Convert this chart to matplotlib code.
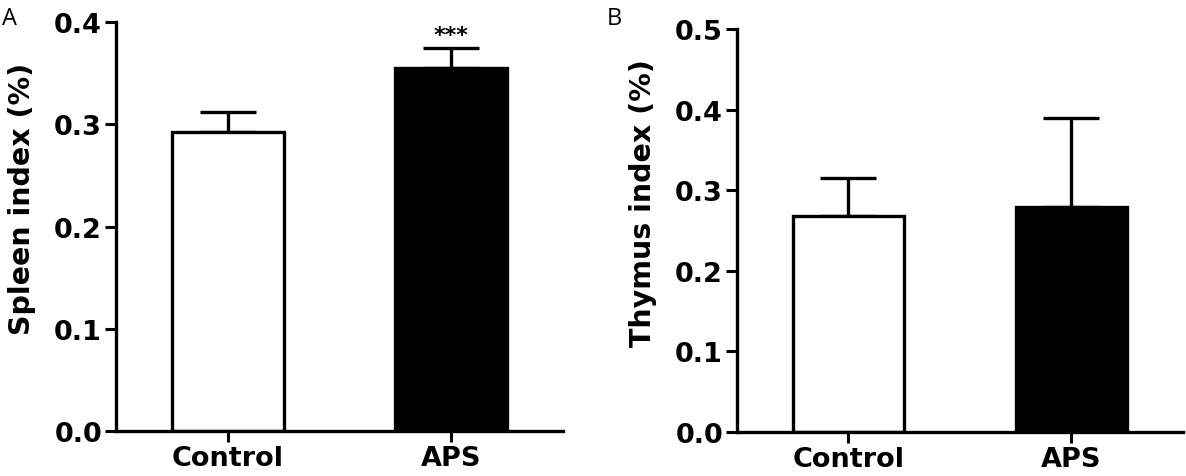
import numpy as np
import matplotlib.pyplot as plt

plt.rcParams['font.family'] = ['DejaVu Sans']

groups = ['Control', 'APS']
spleen_mean = [0.293, 0.355]
spleen_err = [0.019, 0.020]
thymus_mean = [0.268, 0.279]
thymus_err = [0.047, 0.111]
face_colors = ['white', 'black']

fig = plt.figure(figsize=(11.86, 4.77), dpi=100)
axA = fig.add_axes([0.0978, 0.0943, 0.377, 0.857])
axB = fig.add_axes([0.6214, 0.0922, 0.376, 0.845])


def draw_panel(ax, means, errs, ylim, yticks, ylabel):
    x = np.arange(len(groups))
    ax.bar(x, means, width=0.5, color=face_colors, edgecolor='black',
           linewidth=2.4, zorder=2)
    ax.errorbar(x, means, yerr=[np.zeros(len(errs)), errs], fmt='none',
                ecolor='black', elinewidth=2.4, capsize=20, capthick=2.4,
                zorder=1)
    ax.set_xlim(-0.5, 1.5)
    ax.set_ylim(*ylim)
    ax.set_yticks(yticks)
    ax.set_yticklabels(['%.1f' % t for t in yticks])
    ax.set_xticks(x)
    ax.set_xticklabels(groups)
    ax.spines['top'].set_visible(False)
    ax.spines['right'].set_visible(False)
    ax.spines['left'].set_linewidth(2.4)
    ax.spines['bottom'].set_linewidth(2.4)
    ax.tick_params(axis='both', direction='out', length=8, width=2.2,
                   labelsize=19.5, pad=2)
    for lab in ax.get_xticklabels() + ax.get_yticklabels():
        lab.set_fontweight('bold')
    ax.set_ylabel(ylabel, fontsize=20.5, fontweight='bold')
    ax.yaxis.set_label_coords(-0.18, 0.57)


draw_panel(axA, spleen_mean, spleen_err, (0, 0.4),
           [0.0, 0.1, 0.2, 0.3, 0.4], 'Spleen index (%)')
draw_panel(axB, thymus_mean, thymus_err, (0, 0.5),
           [0.0, 0.1, 0.2, 0.3, 0.4, 0.5], 'Thymus index (%)')

axA.text(1, spleen_mean[1] + spleen_err[1] + 0.003, '***', ha='center',
         va='bottom', fontsize=16, fontweight='bold')

fig.text(0.002, 0.985, 'A', fontsize=17, ha='left', va='top',
         family=['Open Sans', 'DejaVu Sans'])
fig.text(0.512, 0.985, 'B', fontsize=17, ha='left', va='top',
         family=['Open Sans', 'DejaVu Sans'])

fig.savefig('out.png', dpi=100)
